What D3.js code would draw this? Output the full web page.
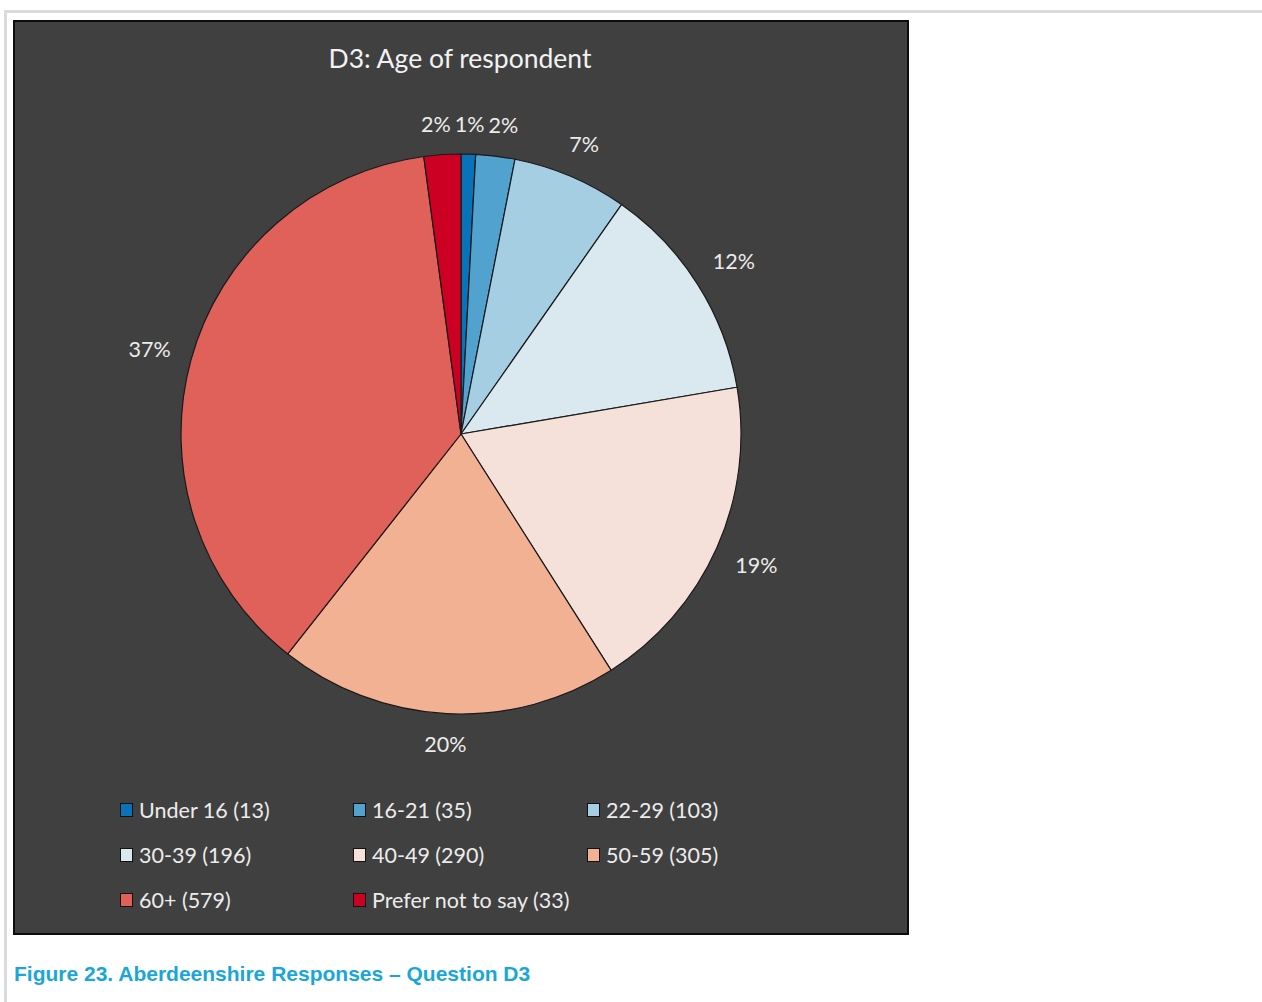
<!DOCTYPE html>
<html>
<head>
<meta charset="utf-8">
<script src="https://cdn.jsdelivr.net/npm/d3@7"></script>
<style>
  html, body { margin: 0; padding: 0; background: #ffffff; }
  svg { display: block; }
</style>
</head>
<body>
<svg id="chart" width="1262" height="1002"></svg>
<script>
// Age groups and response counts (D3: Age of respondent)
const categories = ["Under 16", "16-21", "22-29", "30-39", "40-49", "50-59", "60+", "Prefer not to say"];
const counts = [13, 35, 103, 196, 290, 305, 579, 33];
const colors = ["#0a72b8", "#52a2cf", "#a6cee3", "#dae8f0", "#f6e1da", "#f3b194", "#e0605a", "#cc0022"];
const titleText = "D3: Age of respondent";
const captionText = "Figure 23. Aberdeenshire Responses \u2013 Question D3";

// Whole-number percentages that add up to 100 (largest remainder)
function roundedPercents(values) {
  const total = d3.sum(values);
  const raw = values.map(v => v / total * 100);
  const out = raw.map(Math.floor);
  const left = 100 - d3.sum(out);
  const order = raw.map((r, i) => [r - Math.floor(r), i]).sort((a, b) => b[0] - a[0]);
  for (let k = 0; k < left; k++) out[order[k][1]] += 1;
  return out;
}
const pcts = roundedPercents(counts);

const svg = d3.select("#chart");
const font = "Lato, 'Open Sans', sans-serif";

// page furniture: thin grey rules at top and left
svg.append("rect").attr("x", 4).attr("y", 10).attr("width", 1258).attr("height", 3).attr("fill", "#d9dbdd");
svg.append("rect").attr("x", 4).attr("y", 10).attr("width", 3).attr("height", 992).attr("fill", "#d9dbdd");

// chart panel
svg.append("rect")
  .attr("x", 14).attr("y", 21).attr("width", 894).attr("height", 913)
  .attr("fill", "#404040").attr("stroke", "#0d0d0d").attr("stroke-width", 2);

svg.append("text")
  .attr("x", 460).attr("y", 68)
  .attr("text-anchor", "middle")
  .attr("font-family", font)
  .attr("font-size", 26.5)
  .attr("fill", "#f2f2f2")
  .text(titleText);

// pie
const cx = 461, cy = 434, R = 280;
const pie = d3.pie().sort(null).value(d => d);
const arcs = pie(counts);
const arc = d3.arc().innerRadius(0).outerRadius(R);

const g = svg.append("g").attr("transform", `translate(${cx},${cy})`);
g.selectAll("path.slice")
  .data(arcs)
  .join("path")
  .attr("class", "slice")
  .attr("d", arc)
  .attr("fill", (d, i) => colors[i])
  .attr("stroke", "#1a1a1a")
  .attr("stroke-width", 1.2)
  .attr("stroke-linejoin", "round");

// percentage labels outside each slice
const labelFont = 21.5, gap = 20;
const labels = g.selectAll("text.pct")
  .data(arcs)
  .join("text")
  .attr("class", "pct")
  .attr("text-anchor", "middle")
  .attr("dominant-baseline", "central")
  .attr("font-family", font)
  .attr("font-size", labelFont)
  .attr("fill", "#ececec")
  .text((d, i) => pcts[i] + "%");

const boxes = [];
labels.each(function (d) {
  const w = this.getComputedTextLength();
  const h = labelFont * 0.9;
  const a = (d.startAngle + d.endAngle) / 2;
  const r = R + gap + (w / 2) * Math.abs(Math.sin(a)) + (h / 2) * Math.abs(Math.cos(a));
  boxes.push({ node: this, w, h, x: r * Math.sin(a), y: -r * Math.cos(a) });
});
// nudge labels sideways where neighbours collide
for (let it = 0; it < 50; it++) {
  let moved = false;
  for (let i = 0; i < boxes.length; i++) {
    for (let j = i + 1; j < boxes.length; j++) {
      const A = boxes[i], B = boxes[j];
      const ox = (A.w + B.w) / 2 + 4 - Math.abs(A.x - B.x);
      const oy = (A.h + B.h) / 2 - Math.abs(A.y - B.y);
      if (ox > 0 && oy > 0) {
        const s = A.x < B.x ? -1 : 1;
        A.x += s * ox / 2; B.x -= s * ox / 2;
        moved = true;
      }
    }
  }
  if (!moved) break;
}
boxes.forEach(b => d3.select(b.node).attr("x", b.x).attr("y", b.y));

// legend
const colX = [120, 353, 587], rowY = [810, 855, 900];
const leg = svg.append("g");
categories.forEach((c, i) => {
  const x = colX[i % 3], y = rowY[Math.floor(i / 3)];
  leg.append("rect")
    .attr("x", x + 0.5).attr("y", y - 6.5).attr("width", 12).attr("height", 13)
    .attr("fill", colors[i]).attr("stroke", "#111").attr("stroke-width", 1);
  leg.append("text")
    .attr("x", x + 19).attr("y", y)
    .attr("dominant-baseline", "central")
    .attr("font-family", font)
    .attr("font-size", 21.5)
    .attr("fill", "#ececec")
    .text(`${c} (${counts[i]})`);
});

// figure caption
svg.append("text")
  .attr("x", 14).attr("y", 981)
  .attr("font-family", "'Liberation Sans', Arial, sans-serif")
  .attr("font-weight", "bold")
  .attr("font-size", 21)
  .attr("fill", "#19a6d9")
  .text(captionText);
</script>
</body>
</html>
